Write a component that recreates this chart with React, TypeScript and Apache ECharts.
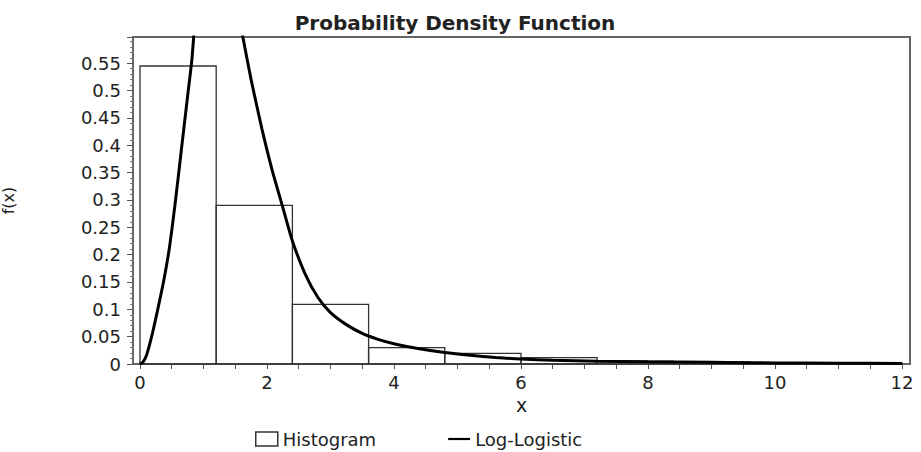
import React, { useEffect, useRef } from "react";
import * as echarts from "echarts";

// Histogram bins (x from, x to, density)
const binStarts = [0, 1.2, 2.4, 3.6, 4.8, 6.0, 7.2, 8.4, 9.6, 10.8];
const binEnds = [1.2, 2.4, 3.6, 4.8, 6.0, 7.2, 8.4, 9.6, 10.8, 12.0];
const binHeights = [0.545, 0.29, 0.109, 0.03, 0.0195, 0.0115, 0.005, 0.004, 0.002, 0.002];

// Log-Logistic curve
const curveX = [0, 0.05, 0.1, 0.15, 0.2, 0.28, 0.37, 0.46, 0.55, 0.65, 0.75, 0.82, 0.9, 1.0, 1.1, 1.2, 1.3, 1.4, 1.5, 1.62, 1.75, 1.92, 2.08, 2.24, 2.4, 2.6, 2.8, 3.0, 3.25, 3.5, 3.75, 4.0, 4.4, 4.8, 5.2, 5.6, 6.0, 6.5, 7.2, 8.0, 9.0, 10.0, 11.0, 12.0];
const curveY = [0, 0.004, 0.015, 0.035, 0.058, 0.1, 0.15, 0.21, 0.29, 0.39, 0.49, 0.56, 0.68, 0.8, 0.86, 0.88, 0.84, 0.76, 0.68, 0.598, 0.52, 0.43, 0.355, 0.29, 0.225, 0.165, 0.122, 0.094, 0.072, 0.056, 0.045, 0.037, 0.028, 0.021, 0.016, 0.012, 0.009, 0.007, 0.005, 0.004, 0.003, 0.002, 0.0015, 0.001];

const xLabelValues = [0, 2, 4, 6, 8, 10, 12];
const xTickValues = [0, 0.5, 1, 1.5, 2, 2.5, 3, 3.5, 4, 4.5, 5, 5.5, 6, 6.5, 7, 7.5, 8, 8.5, 9, 9.5, 10, 10.5, 11, 11.5, 12];

const FONT = "DejaVu Sans";

export default function App() {
  const ref = useRef<HTMLDivElement>(null);
  useEffect(() => {
    if (!ref.current) return;
    const chart = echarts.init(ref.current, null, { renderer: "svg" });
    const histData = binStarts.map((s, i) => [s, binEnds[i], binHeights[i]]);
    const lineData = curveX.map((x, i) => [x, curveY[i]]);
    chart.setOption({
      animation: false,
      backgroundColor: "#fff",
      title: {
        text: "Probability Density Function",
        left: 450,
        top: 8,
        textAlign: "center",
        textStyle: { fontFamily: FONT, fontSize: 20, fontWeight: "bold", color: "#222" },
      },
      grid: {
        left: 133,
        right: 11,
        top: 37,
        bottom: 88,
        outerBoundsMode: "none",
        containLabel: false,
        show: true,
        borderColor: "#666",
        borderWidth: 2,
        backgroundColor: "transparent",
      },
      legend: {
        left: 250,
        top: 424,
        itemWidth: 22,
        itemHeight: 14,
        itemGap: 72,
        textStyle: { fontFamily: FONT, fontSize: 18, lineHeight: 20, color: "#222" },
        data: [
          { name: "Histogram", icon: "rect", itemStyle: { color: "#fff", borderColor: "#333", borderWidth: 1.5 } },
          { name: "Log-Logistic", icon: "path://M0 0H30V3H0Z", itemStyle: { color: "#000" } },
        ],
      },
      xAxis: {
        type: "value",
        min: -0.11,
        max: 12.126,
        name: "x",
        nameLocation: "middle",
        nameGap: 31,
        nameTextStyle: { fontFamily: FONT, fontSize: 19, color: "#222" },
        axisLine: { show: true, onZero: false, lineStyle: { color: "#666", width: 2 } },
        axisTick: { show: true, length: 5, customValues: xTickValues, lineStyle: { color: "#555" } },
        axisLabel: { customValues: xLabelValues, fontFamily: FONT, fontSize: 18, color: "#222", margin: 9 },
        splitLine: { show: false },
      },
      yAxis: {
        type: "value",
        min: 0,
        max: 0.598,
        interval: 0.05,
        name: "f(x)",
        nameLocation: "middle",
        nameGap: 117,
        nameRotate: 90,
        nameTextStyle: { fontFamily: FONT, fontSize: 16, color: "#222" },
        axisLine: { show: true, onZero: false, lineStyle: { color: "#666", width: 2 } },
        axisTick: { show: true, length: 6, lineStyle: { color: "#555" } },
        minorTick: { show: true, splitNumber: 5, length: 3, lineStyle: { color: "#777" } },
        axisLabel: { fontFamily: FONT, fontSize: 18, color: "#222", margin: 12, showMaxLabel: false },
        splitLine: { show: false },
        minorSplitLine: { show: false },
      },
      series: [
        {
          name: "Histogram",
          type: "custom",
          data: histData,
          encode: { x: [0, 1], y: 2 },
          itemStyle: { color: "#fff", borderColor: "#333", borderWidth: 1.5 },
          z: 2,
          renderItem: (params: any, api: any) => {
            const x0 = api.value(0);
            const x1 = api.value(1);
            const h = api.value(2);
            const p0 = api.coord([x0, h]);
            const p1 = api.coord([x1, 0]);
            return {
              type: "rect",
              shape: { x: p0[0], y: p0[1], width: p1[0] - p0[0], height: p1[1] - p0[1] },
              style: { fill: "none", stroke: "#333", lineWidth: 1.3 },
            };
          },
        },
        {
          name: "Log-Logistic",
          type: "line",
          data: lineData,
          symbol: "none",
          showSymbol: false,
          smooth: 0.2,
          clip: true,
          z: 3,
          lineStyle: { color: "#000", width: 3 },
          itemStyle: { color: "#000" },
        },
      ],
    });
    return () => chart.dispose();
  }, []);
  return <div ref={ref} style={{ position: "fixed", left: 0, top: 0, width: 921, height: 452 }} />;
}
